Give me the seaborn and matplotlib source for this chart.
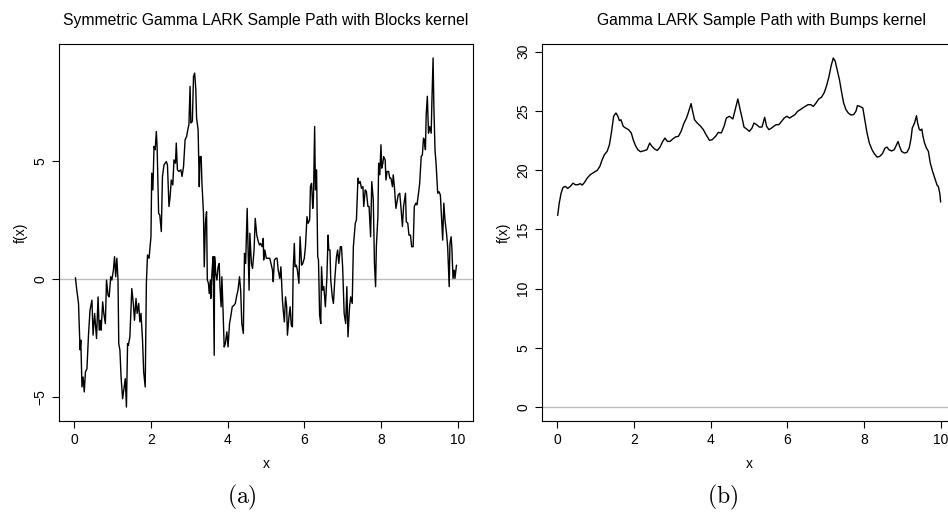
import numpy as np
import pandas as pd
import matplotlib
matplotlib.use("Agg")
import matplotlib.pyplot as plt
import seaborn as sns

# (a) symmetric gamma LARK path, blocks kernel
x_blocks = [0.03, 0.06, 0.11, 0.15, 0.17, 0.20, 0.23, 0.26, 0.29, 0.33, 0.37, 0.41, 0.46, 0.49, 0.53,
            0.58, 0.62, 0.65, 0.68, 0.70, 0.74, 0.77, 0.81, 0.84, 0.88, 0.91, 0.95, 0.98, 1.02, 1.05,
            1.08, 1.11, 1.14, 1.16, 1.19, 1.22, 1.26, 1.29, 1.33, 1.36, 1.39, 1.41, 1.45, 1.50, 1.54,
            1.57, 1.61, 1.64, 1.68, 1.71, 1.74, 1.78, 1.81, 1.85, 1.88, 1.91, 1.95, 2.00, 2.02, 2.05,
            2.08, 2.11, 2.14, 2.16, 2.20, 2.23, 2.27, 2.30, 2.34, 2.40, 2.43, 2.47, 2.50, 2.53, 2.57,
            2.60, 2.64, 2.66, 2.69, 2.73, 2.78, 2.81, 2.85, 2.89, 2.93, 2.96, 2.99, 3.02, 3.04, 3.08,
            3.11, 3.14, 3.17, 3.19, 3.23, 3.26, 3.28, 3.31, 3.33, 3.37, 3.39, 3.42, 3.45, 3.47, 3.50,
            3.52, 3.55, 3.56, 3.59, 3.62, 3.65, 3.66, 3.69, 3.72, 3.75, 3.78, 3.80, 3.83, 3.85, 3.88,
            3.91, 3.94, 3.98, 4.01, 4.05, 4.08, 4.12, 4.17, 4.20, 4.24, 4.27, 4.31, 4.34, 4.37, 4.41,
            4.44, 4.47, 4.51, 4.53, 4.56, 4.58, 4.62, 4.65, 4.69, 4.72, 4.76, 4.79, 4.83, 4.86, 4.90,
            4.93, 4.94, 4.97, 5.01, 5.04, 5.10, 5.13, 5.17, 5.19, 5.22, 5.26, 5.29, 5.32, 5.36, 5.39,
            5.43, 5.45, 5.48, 5.51, 5.54, 5.56, 5.60, 5.63, 5.66, 5.69, 5.71, 5.74, 5.76, 5.79, 5.82,
            5.86, 5.89, 5.93, 5.96, 6.00, 6.03, 6.07, 6.10, 6.14, 6.16, 6.19, 6.22, 6.24, 6.27, 6.29,
            6.32, 6.35, 6.37, 6.40, 6.43, 6.45, 6.48, 6.51, 6.55, 6.59, 6.62, 6.64, 6.67, 6.69, 6.73,
            6.76, 6.80, 6.84, 6.87, 6.90, 6.94, 6.97, 7.00, 7.04, 7.08, 7.11, 7.14, 7.18, 7.21, 7.25,
            7.28, 7.33, 7.36, 7.40, 7.43, 7.46, 7.49, 7.53, 7.55, 7.59, 7.62, 7.66, 7.69, 7.73, 7.76,
            7.80, 7.83, 7.86, 7.88, 7.92, 7.94, 7.97, 8.00, 8.02, 8.05, 8.07, 8.11, 8.13, 8.16, 8.20,
            8.23, 8.26, 8.30, 8.32, 8.35, 8.39, 8.42, 8.45, 8.49, 8.52, 8.56, 8.59, 8.64, 8.66, 8.70,
            8.73, 8.77, 8.80, 8.84, 8.87, 8.91, 8.94, 8.98, 9.01, 9.05, 9.08, 9.11, 9.13, 9.16, 9.18,
            9.21, 9.24, 9.27, 9.31, 9.33, 9.36, 9.38, 9.41, 9.44, 9.48, 9.51, 9.55, 9.58, 9.61, 9.64,
            9.67, 9.71, 9.74, 9.78, 9.80, 9.83, 9.85, 9.88, 9.91, 9.93, 9.97]
f_blocks = [0.06, -0.40, -1.03, -2.99, -2.58, -4.56, -4.14, -4.77, -3.93, -3.79, -2.37, -1.31, -0.89, -2.37, -1.45,
            -2.51, -0.75, -2.16, -1.74, -2.16, -0.96, -1.45, -1.88, -0.04, -0.68, -0.75, 0.10, -0.04, 0.38, 0.95,
            0.10, 0.88, -0.04, -2.73, -3.01, -4.14, -5.06, -4.70, -4.21, -5.41, -2.73, -2.80, -2.44, -0.40, -1.03,
            -1.74, -0.82, -1.45, -1.03, -1.81, -1.45, -2.58, -3.93, -4.56, -0.18, 1.02, 0.88, 1.79, 4.48, 3.77,
            5.61, 5.47, 6.24, 5.61, 2.78, 2.71, 2.01, 4.34, 4.83, 4.97, 4.83, 3.07, 3.49, 4.19, 3.98,
            5.04, 4.90, 5.75, 4.62, 4.55, 4.62, 4.34, 4.76, 5.89, 6.03, 6.31, 6.53, 8.15, 6.60, 6.67,
            8.57, 8.71, 8.01, 6.81, 6.31, 3.91, 5.18, 5.18, 4.05, 2.78, 0.52, 2.36, 2.85, -0.04, -0.18,
            -0.61, -0.04, -0.82, 0.24, 0.95, -3.22, 0.95, 0.24, -0.04, 0.52, 0.66, -0.32, -1.17, 0.10, -1.31,
            -2.87, -2.73, -2.23, -2.87, -1.88, -1.60, -1.17, -1.10, -1.03, -0.68, -0.47, 0.10, -0.47, -1.88, -2.30,
            1.09, 0.66, 2.99, 1.51, -0.47, 1.94, 0.66, 0.45, 1.23, 2.57, 1.86, 1.65, 1.44, 1.51, 1.37,
            1.72, 0.81, 1.23, 0.88, 0.88, 0.88, 0.66, 0.38, -0.11, 0.81, 0.88, 0.88, 0.38, 0.03, 0.52,
            -0.89, -1.31, -1.81, -0.75, -1.17, -2.37, -1.60, -1.17, -1.95, -2.02, 0.38, 1.51, 0.52, 0.59, 0.38,
            -0.18, 1.79, 0.59, 0.66, 0.88, 1.37, 2.64, 2.36, 2.50, 3.91, 4.05, 2.99, 3.49, 6.45, 3.77,
            4.62, 0.95, 0.81, -1.53, -1.88, 0.52, -0.47, -0.32, -1.17, 0.10, 1.86, 1.23, 1.23, -0.04, -0.75,
            -1.03, 0.10, 0.95, 1.23, 0.66, 1.37, 1.37, 0.52, -1.45, -1.88, -0.32, -2.44, -1.17, -0.75, -1.03,
            1.37, 2.36, 2.50, 4.27, 4.05, 4.12, 3.84, 3.91, 3.07, 3.77, 3.70, 3.07, 3.07, 1.79, 4.12,
            3.35, 0.66, -0.32, 1.37, 2.64, 4.90, 4.41, 5.68, 4.69, 4.90, 5.18, 5.04, 4.19, 4.55, 4.55,
            4.27, 4.27, 3.91, 4.41, 3.91, 2.99, 3.28, 3.56, 3.63, 3.07, 2.22, 3.07, 3.63, 2.43, 2.36,
            1.86, 1.86, 1.37, 1.37, 3.07, 3.21, 3.14, 3.63, 4.05, 5.18, 5.25, 5.96, 5.89, 5.47, 6.95,
            7.73, 6.17, 6.45, 6.17, 7.58, 9.35, 7.30, 5.47, 4.83, 3.63, 3.70, 3.56, 2.64, 1.65, 3.21,
            2.50, 1.94, 1.37, -0.32, 1.51, 1.79, 1.30, 0.03, 0.38, 0.03, 0.59]

# (b) gamma LARK path, bumps kernel
x_bumps = [0.01, 0.05, 0.10, 0.15, 0.21, 0.27, 0.34, 0.41, 0.47, 0.53, 0.60, 0.65, 0.71, 0.78, 0.86,
           0.95, 1.04, 1.11, 1.17, 1.23, 1.30, 1.36, 1.41, 1.47, 1.53, 1.58, 1.62, 1.66, 1.72, 1.78,
           1.86, 1.93, 1.98, 2.04, 2.10, 2.17, 2.26, 2.34, 2.41, 2.47, 2.54, 2.61, 2.68, 2.75, 2.81,
           2.87, 2.94, 3.01, 3.08, 3.16, 3.23, 3.30, 3.37, 3.42, 3.49, 3.53, 3.58, 3.65, 3.74, 3.81,
           3.88, 3.97, 4.04, 4.13, 4.20, 4.28, 4.35, 4.41, 4.49, 4.58, 4.65, 4.71, 4.77, 4.83, 4.87,
           4.94, 5.01, 5.08, 5.13, 5.20, 5.27, 5.34, 5.41, 5.46, 5.52, 5.59, 5.67, 5.71, 5.78, 5.85,
           5.92, 5.99, 6.06, 6.13, 6.20, 6.27, 6.34, 6.40, 6.47, 6.54, 6.61, 6.68, 6.75, 6.82, 6.89,
           6.96, 7.02, 7.09, 7.14, 7.20, 7.25, 7.31, 7.36, 7.42, 7.47, 7.53, 7.59, 7.66, 7.73, 7.79,
           7.83, 7.89, 7.97, 8.03, 8.08, 8.14, 8.21, 8.27, 8.34, 8.41, 8.48, 8.55, 8.60, 8.65, 8.72,
           8.79, 8.84, 8.89, 8.93, 8.98, 9.05, 9.12, 9.18, 9.23, 9.26, 9.32, 9.37, 9.40, 9.44, 9.47,
           9.51, 9.54, 9.58, 9.63, 9.68, 9.73, 9.79, 9.86, 9.91, 9.94, 9.98, 10.0]
f_bumps = [16.17, 17.21, 18.06, 18.54, 18.62, 18.45, 18.62, 18.90, 18.76, 18.76, 18.85, 18.73, 18.96, 19.32, 19.61,
           19.80, 19.97, 20.31, 20.87, 21.30, 21.58, 22.14, 23.13, 24.54, 24.82, 24.54, 24.17, 24.25, 23.69, 23.55,
           23.41, 23.13, 22.56, 22.06, 21.72, 21.55, 21.63, 21.72, 22.28, 22.00, 21.77, 21.66, 21.94, 22.42, 22.70,
           22.42, 22.42, 22.62, 22.79, 22.85, 23.27, 23.92, 24.39, 24.87, 25.61, 24.96, 24.25, 23.97, 23.69, 23.41,
           22.99, 22.51, 22.56, 22.85, 23.18, 23.13, 23.69, 24.39, 24.54, 24.31, 25.24, 26.00, 25.10, 24.25, 23.63,
           23.46, 23.27, 23.55, 23.97, 23.83, 23.63, 23.63, 24.45, 23.69, 23.41, 23.55, 23.75, 23.83, 23.83, 24.11,
           24.39, 24.54, 24.39, 24.54, 24.68, 24.96, 25.10, 25.24, 25.38, 25.52, 25.52, 25.38, 25.66, 26.00, 26.14,
           26.51, 27.07, 27.92, 28.76, 29.46, 29.18, 28.34, 27.63, 26.51, 25.66, 25.10, 24.82, 24.65, 24.68, 24.96,
           25.44, 25.38, 25.24, 24.11, 23.13, 22.28, 21.72, 21.38, 21.10, 21.15, 21.38, 21.86, 21.94, 21.72, 21.61,
           21.72, 22.06, 22.42, 22.00, 21.58, 21.44, 21.49, 21.86, 22.70, 23.55, 23.97, 24.59, 23.97, 23.46, 23.35,
           23.46, 22.85, 22.28, 21.86, 21.58, 20.59, 19.89, 19.18, 18.70, 18.62, 18.00, 17.30]

titles = ["Symmetric Gamma LARK Sample Path with Blocks kernel",
          "Gamma LARK Sample Path with Bumps kernel"]
panel_tags = ["(a)", "(b)"]
x_ticks = [0, 2, 4, 6, 8, 10]
y_ticks_a = [-5, 0, 5]
y_ticks_b = [0, 5, 10, 15, 20, 25, 30]

sns.set_style("ticks")
plt.rcParams['font.family'] = ['Liberation Sans', 'DejaVu Sans']
plt.rcParams['mathtext.fontset'] = 'cm'
plt.rcParams['text.color'] = 'black'
plt.rcParams['axes.labelcolor'] = 'black'

df_a = pd.DataFrame({"x": x_blocks, "f": f_blocks})
df_b = pd.DataFrame({"x": x_bumps, "f": f_bumps})

fig = plt.figure(figsize=(9.48, 5.14), dpi=100)
ax_a = fig.add_axes([0.0622, 0.1809, 0.4367, 0.7335])
ax_b = fig.add_axes([0.5717, 0.1809, 0.4367, 0.7335])

panels = [(ax_a, df_a, y_ticks_a, (-6.0, 9.94), 0.5),
          (ax_b, df_b, y_ticks_b, (-1.18, 30.64), 0.53)]

for i, (ax, df, yt, ylim, tx) in enumerate(panels):
    ax.axhline(0, color="#bebebe", lw=1.0, zorder=1)
    sns.lineplot(data=df, x="x", y="f", ax=ax, color="black", lw=1.0,
                 estimator=None, sort=False, zorder=2)
    ax.set_xlim(-0.4, 10.4)
    ax.set_ylim(*ylim)
    ax.set_xticks(x_ticks)
    ax.set_yticks(yt)
    ax.tick_params(direction="out", length=5, width=0.8, labelsize=10, colors="black")
    for lab in ax.get_yticklabels():
        lab.set_rotation(90)
        lab.set_va("center")
    for sp in ax.spines.values():
        sp.set_visible(True)
        sp.set_color("black")
        sp.set_linewidth(0.8)
    ax.set_title(titles[i], fontsize=11.3, pad=14, x=tx, color="black")
    ax.set_xlabel("x", fontsize=10, labelpad=7)
    ax.set_ylabel("f(x)", fontsize=10, labelpad=4)

fig.text(242 / 948, 1 - 497 / 514, r"$\mathrm{(a)}$", ha="center", va="center", fontsize=17)
fig.text(723 / 948, 1 - 497 / 514, r"$\mathrm{(b)}$", ha="center", va="center", fontsize=17)

fig.savefig("out.png", dpi=100)
